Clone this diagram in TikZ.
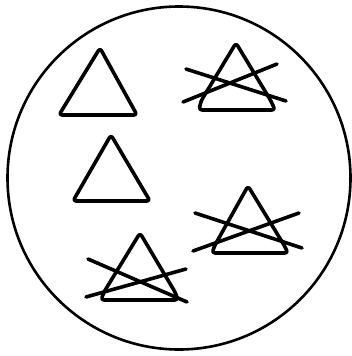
\documentclass[tikz,border=0pt]{standalone}
\begin{document}
\begin{tikzpicture}[x=1pt,y=-1pt,
  tri/.style={line width=3.6pt,rounded corners=3pt,line join=round},
  crossline/.style={line width=3.6pt,line cap=round},
  ring/.style={line width=2.6pt}]
\useasboundingbox (0,0) rectangle (352,356);
\fill[white] (0,0) rectangle (352,356);
\draw[ring] (179,178) circle[radius=171.5];
% plain triangles
\draw[tri] (100,48) -- (137,115) -- (59,115) -- cycle;
\draw[tri] (111,135) -- (150,201) -- (73,201) -- cycle;
% crossed triangle top right
\draw[tri] (236,43) -- (271,101) -- (275,110) -- (199,110) -- (201,101) -- cycle;
\draw[crossline] (186,69) -- (286,101);
\draw[crossline] (183,102) -- (277,64);
% crossed triangle right middle
\draw[tri] (248,186) -- (284,245) -- (288,253) -- (212,253) -- (215,245) -- cycle;
\draw[crossline] (195,213) -- (302,248);
\draw[crossline] (193,251) -- (299,213);
% crossed triangle bottom
\draw[tri] (140,233) -- (175,292) -- (178,300) -- (101,300) -- (104,292) -- cycle;
\draw[crossline] (88,259) -- (187,302);
\draw[crossline] (86,297) -- (186,269);
\end{tikzpicture}
\end{document}
